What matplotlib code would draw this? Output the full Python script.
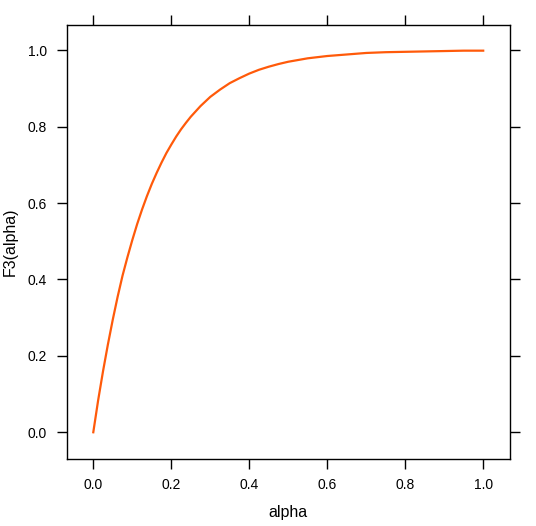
import matplotlib
matplotlib.use("Agg")
import matplotlib.pyplot as plt

# values (denser where it bends)
alpha = [0.0, 0.0125, 0.025, 0.0375, 0.05, 0.0625, 0.075, 0.0875, 0.1,
         0.1125, 0.125, 0.1375, 0.15, 0.1625, 0.175, 0.1875, 0.2, 0.2125,
         0.225, 0.2375, 0.25, 0.275, 0.3, 0.325, 0.35, 0.375, 0.4, 0.425,
         0.45, 0.475, 0.5, 0.55, 0.6, 0.65, 0.7, 0.75, 0.8, 0.85, 0.9,
         0.95, 1.0]
f3 = [0.0, 0.084, 0.16, 0.23, 0.295, 0.355, 0.41, 0.458, 0.503,
      0.545, 0.583, 0.618, 0.650, 0.679, 0.706, 0.731, 0.753, 0.774,
      0.793, 0.810, 0.826, 0.854, 0.878, 0.897, 0.914, 0.927, 0.939, 0.949,
      0.957, 0.964, 0.970, 0.979, 0.985, 0.989, 0.993, 0.995, 0.996, 0.997,
      0.998, 0.999, 0.999]
ticks = [0.0, 0.2, 0.4, 0.6, 0.8, 1.0]
tick_labels = ["0.0", "0.2", "0.4", "0.6", "0.8", "1.0"]

plt.rcParams['font.family'] = ['Liberation Sans', 'DejaVu Sans']

fig = plt.figure(figsize=(5.36, 5.26), dpi=100)
ax = fig.add_axes([66.5 / 536, 1 - 459 / 526, (510 - 66.5) / 536, (459 - 24.5) / 526])

ax.plot(alpha, f3, color='#ff5a0a', linewidth=1.6, solid_joinstyle='round')

ax.set_xlim(-0.0687, 1.0687)
ax.set_ylim(-0.07, 1.0675)
ax.set_xticks(ticks)
ax.set_xticklabels(tick_labels)
ax.set_yticks(ticks)
ax.set_yticklabels(tick_labels)
ax.tick_params(direction='out', length=7, width=1, labelsize=10,
               top=True, right=True, labeltop=False, labelright=False,
               pad=7)
for s in ax.spines.values():
    s.set_linewidth(1)

ax.set_xlabel("alpha", fontsize=11.5, labelpad=9)
ax.set_ylabel("F3(alpha)", fontsize=11.5, labelpad=7)

fig.savefig("out.png", dpi=100)
